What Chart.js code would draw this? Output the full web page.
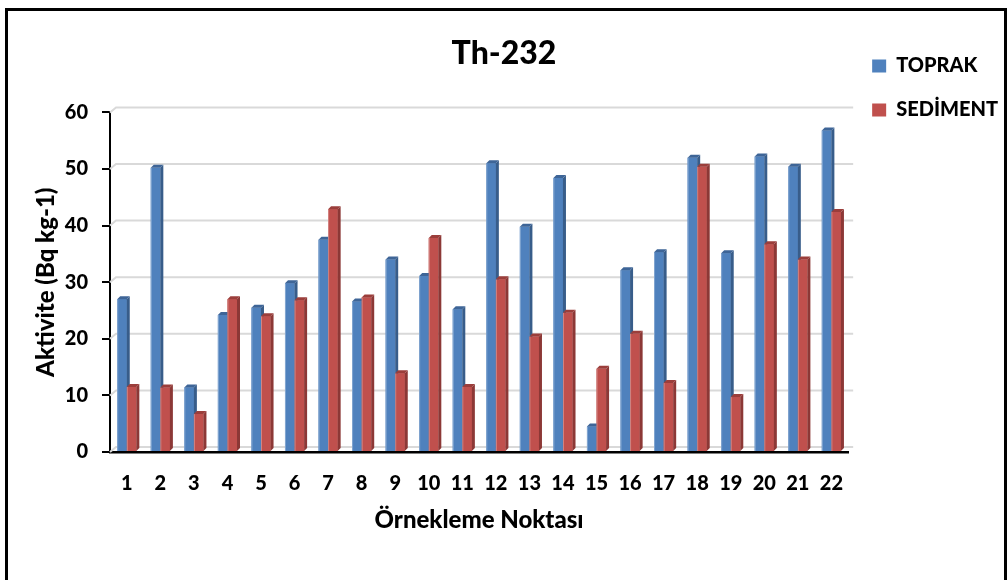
<!DOCTYPE html>
<html>
<head>
<meta charset="utf-8">
<script src="https://cdn.jsdelivr.net/npm/chart.js@4/dist/chart.umd.min.js"></script>
<style>
	body { margin: 0; background: #fff; }
	#wrap { position: relative; width: 1008px; height: 580px; overflow: hidden; }
	#frame { position: absolute; left: 5px; top: 8px; width: 996px; height: 600px; border: 3px solid #000; pointer-events: none; }
</style>
</head>
<body>
<div id="wrap">
	<canvas id="th232Chart" width="1008" height="580"></canvas>
	<div id="frame"></div>
</div>
<script>
const categories = ['1', '2', '3', '4', '5', '6', '7', '8', '9', '10', '11',
	'12', '13', '14', '15', '16', '17', '18', '19', '20', '21', '22'];
const toprak = [27.0, 50.2, 11.4, 24.2, 25.5, 29.8, 37.5, 26.6, 34.0, 31.1, 25.2,
	51.0, 39.8, 48.4, 4.5, 32.1, 35.3, 52.0, 35.1, 52.2, 50.4, 56.8];
const sediment = [11.5, 11.4, 6.7, 27.0, 24.0, 26.8, 42.9, 27.3, 13.9, 37.8, 11.5,
	30.5, 20.4, 24.6, 14.7, 20.9, 12.2, 50.4, 9.7, 36.7, 34.0, 42.4];
const yTicks = [0, 10, 20, 30, 40, 50, 60];

const fontName = 'Lato';

// back wall gridlines, shifted up/right like the excel 3d look
const backGrid = {
	id: 'backGrid',
	beforeDatasetsDraw: function(chart) {
		var ctx = chart.ctx;
		var yScale = chart.scales.y;
		var area = chart.chartArea;
		ctx.save();
		ctx.strokeStyle = '#d9d9d9';
		ctx.lineWidth = 2;
		yTicks.forEach(function(v) {
			var y = yScale.getPixelForValue(v);
			ctx.beginPath();
			ctx.moveTo(area.left, y);
			ctx.lineTo(area.left + 6, y - 5);
			ctx.lineTo(area.right + 5, y - 5);
			ctx.stroke();
		});
		ctx.restore();
	}
};

// side + top faces for the bars
const bars3d = {
	id: 'bars3d',
	afterDatasetsDraw: function(chart) {
		var ctx = chart.ctx;
		var d = 3;
		ctx.save();
		chart.data.datasets.forEach(function(ds, i) {
			var meta = chart.getDatasetMeta(i);
			meta.data.forEach(function(bar) {
				var p = bar.getProps(['x', 'y', 'base', 'width'], true);
				var left = p.x - p.width / 2;
				var right = p.x + p.width / 2;
				ctx.fillStyle = ds.backgroundColor;
				ctx.fillRect(left, p.y, p.width, p.base - p.y);
				ctx.fillStyle = 'rgba(255,255,255,0.3)';
				ctx.fillRect(left, p.y, 1, p.base - p.y);
				ctx.fillStyle = ds.sideColor;
				ctx.beginPath();
				ctx.moveTo(right, p.y);
				ctx.lineTo(right + d, p.y - d);
				ctx.lineTo(right + d, p.base - d);
				ctx.lineTo(right, p.base);
				ctx.closePath();
				ctx.fill();
				ctx.fillStyle = ds.topColor;
				ctx.beginPath();
				ctx.moveTo(left, p.y);
				ctx.lineTo(left + d, p.y - d);
				ctx.lineTo(right + d, p.y - d);
				ctx.lineTo(right, p.y);
				ctx.closePath();
				ctx.fill();
			});
		});
		ctx.restore();
	}
};

var ctx = document.getElementById('th232Chart').getContext('2d');
var chart = new Chart(ctx, {
	type: 'bar',
	data: {
		labels: categories,
		datasets: [
			{
				label: 'TOPRAK',
				data: toprak,
				backgroundColor: '#4f81bd',
				sideColor: '#385d8a',
				topColor: '#3e6597',
				categoryPercentage: 0.57,
				barPercentage: 1.0
			},
			{
				label: 'SEDİMENT',
				data: sediment,
				backgroundColor: '#c0504d',
				sideColor: '#8c3836',
				topColor: '#9b3e3b',
				categoryPercentage: 0.57,
				barPercentage: 1.0
			}
		]
	},
	options: {
		responsive: false,
		animation: false,
		layout: { padding: { top: 32, right: 0, left: 0, bottom: 45 } },
		plugins: {
			tooltip: { enabled: false },
			title: {
				display: true,
				text: 'Th-232',
				color: '#000',
				font: { family: fontName, size: 32, weight: 900 },
				padding: { top: 2, bottom: 40 }
			},
			legend: {
				position: 'right',
				align: 'start',
				labels: {
					color: '#000',
					font: { family: fontName, size: 20, weight: 900 },
					boxWidth: 14,
					boxHeight: 13,
					padding: 24
				}
			}
		},
		scales: {
			x: {
				afterFit: function(scale) {
					scale.height = 83;
				},
				grid: { display: false, drawTicks: false },
				border: { display: true, color: '#000', width: 2.5 },
				ticks: {
					color: '#000',
					font: { family: fontName, size: 20, weight: 900 },
					padding: 20,
					maxRotation: 0,
					autoSkip: false
				},
				title: {
					display: true,
					text: 'Örnekleme Noktası',
					color: '#000',
					font: { family: fontName, size: 24, weight: 900 },
					padding: { top: 15, bottom: 0 }
				}
			},
			y: {
				min: 0,
				max: 60,
				afterFit: function(scale) {
					scale.width = 110;
				},
				grid: {
					drawOnChartArea: false,
					drawTicks: true,
					tickLength: 8,
					color: '#000',
					lineWidth: 2
				},
				border: { display: true, color: '#000', width: 2 },
				ticks: {
					stepSize: 10,
					color: '#000',
					font: { family: fontName, size: 20, weight: 900 },
					padding: 14
				},
				title: {
					display: true,
					text: 'Aktivite (Bq kg-1)',
					color: '#000',
					font: { family: fontName, size: 24, weight: 900 },
					padding: { top: 32, bottom: 0 }
				}
			}
		}
	},
	plugins: [backGrid, bars3d]
});
</script>
</body>
</html>
